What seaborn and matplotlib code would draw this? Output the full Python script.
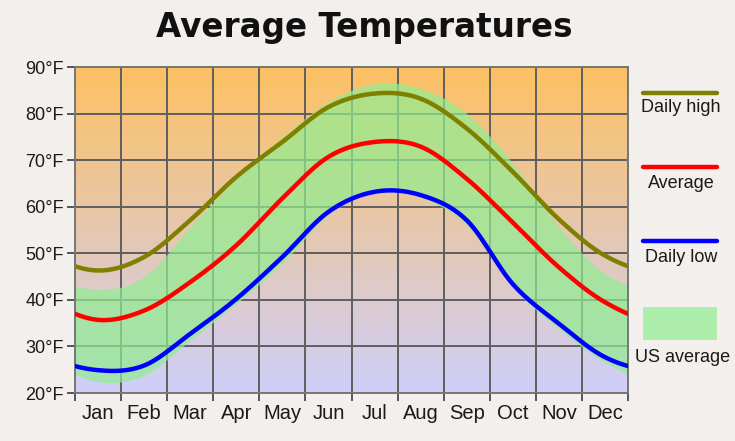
import numpy as np
import pandas as pd
import matplotlib
matplotlib.use("Agg")
import matplotlib.pyplot as plt
from matplotlib.lines import Line2D
from matplotlib.patches import Rectangle
import seaborn as sns

months = ["Jan", "Feb", "Mar", "Apr", "May", "Jun", "Jul", "Aug", "Sep", "Oct", "Nov", "Dec"]
daily_high = [46.3, 49.2, 57.1, 66.4, 73.9, 81.4, 84.3, 83.2, 76.8, 67.5, 57.3, 49.5]
average = [35.7, 37.7, 43.8, 51.7, 61.8, 70.7, 73.9, 72.9, 66.0, 56.6, 47.0, 39.5]
daily_low = [24.9, 25.9, 32.7, 40.2, 49.2, 58.9, 63.2, 62.5, 57.1, 43.4, 34.9, 27.7]
us_high = [42.2, 45.0, 55.6, 66.0, 75.0, 82.5, 86.4, 85.4, 80.0, 69.3, 55.6, 45.6]
us_low = [22.4, 23.8, 31.3, 39.2, 47.8, 58.3, 63.0, 62.0, 56.0, 42.7, 33.8, 26.6]
y_ticks = [20, 30, 40, 50, 60, 70, 80, 90]


def smooth(vals, n=24):
    # periodic catmull-rom through the monthly values (placed at month centres)
    v = np.asarray(vals, dtype=float)
    p = np.concatenate([v[-2:], v, v[:2]])
    centers = np.arange(-2, 14) + 0.5
    xs, ys = [], []
    for i in range(1, len(p) - 2):
        t = np.linspace(0, 1, n, endpoint=False)
        p0, p1, p2, p3 = p[i - 1], p[i], p[i + 1], p[i + 2]
        y = 0.5 * (2 * p1 + (-p0 + p2) * t + (2 * p0 - 5 * p1 + 4 * p2 - p3) * t ** 2
                   + (-p0 + 3 * p1 - 3 * p2 + p3) * t ** 3)
        xs.append(centers[i] + t)
        ys.append(y)
    return np.concatenate(xs), np.concatenate(ys)


sns.set_style("white")
plt.rcParams["font.family"] = ["Liberation Sans", "DejaVu Sans"]

fig = plt.figure(figsize=(7.35, 4.41), dpi=100, facecolor="#F2EFEC")
ax = fig.add_axes([75 / 735, 1 - 393 / 441, (628 - 75) / 735, (393 - 67) / 441])

# gradient background
top = np.array([253, 193, 99]) / 255
bot = np.array([207, 207, 250]) / 255
f = np.linspace(0, 1, 256)[:, None]
grad = (top * (1 - f) + bot * f)[:, None, :]
ax.imshow(grad, extent=[0, 12, 20, 90], aspect="auto", zorder=0)

# US average band
bx, blo = smooth(us_low)
_, bhi = smooth(us_high)
ax.fill_between(bx, blo, bhi, color="#90EE90", alpha=0.7, lw=0, zorder=1)

frames = []
for name, vals in [("Daily high", daily_high), ("Average", average), ("Daily low", daily_low)]:
    x, y = smooth(vals)
    frames.append(pd.DataFrame({"x": x, "temp": y, "series": name}))
df = pd.concat(frames, ignore_index=True)
palette = {"Daily high": "#808000", "Average": "#FF0000", "Daily low": "#0000FF"}
sns.lineplot(data=df, x="x", y="temp", hue="series", palette=palette, estimator=None,
             sort=False, lw=3.2, legend=False, ax=ax, zorder=3)

ax.set_xlim(0, 12)
ax.set_ylim(20, 90)
ax.set_xlabel("")
ax.set_ylabel("")

ax.set_xticks(np.arange(0, 13))
ax.set_xticklabels([])
ax.set_xticks(np.arange(12) + 0.5, minor=True)
ax.set_xticklabels(months, minor=True, fontsize=14.5, color="#1a1a1a")
ax.tick_params(axis="x", which="minor", length=0, pad=8)
ax.tick_params(axis="x", which="major", length=6, width=1.4, color="#555555", direction="out")

ax.set_yticks(y_ticks)
ax.set_yticklabels([f"{t}°F" for t in y_ticks], fontsize=13, color="#1a1a1a")
ax.tick_params(axis="y", length=6, width=1.4, color="#555555", direction="out", pad=2)
ax.tick_params(bottom=True, left=True)

ax.set_axisbelow(True)
ax.grid(True, which="major", color="#5f5f5f", lw=1.4)
for s in ax.spines.values():
    s.set_color("#777777")
    s.set_linewidth(1.4)

fig.text(364 / 735, 1 - 28 / 441, "Average Temperatures", ha="center", va="center",
         fontsize=23.5, fontweight="bold", family="DejaVu Sans", color="#111111")

# legend on the right
W, H = 735, 441
for ly, ty, col, label in [(93, 108, "#808000", "Daily high"), (167, 183, "#FF0000", "Average"),
                           (241, 258, "#0000FF", "Daily low")]:
    fig.add_artist(Line2D([643 / W, 717 / W], [1 - ly / H, 1 - ly / H], color=col, lw=3.2,
                          transform=fig.transFigure))
    fig.text(681 / W, 1 - ty / H, label, ha="center", va="center", fontsize=13, color="#1a1a1a")
fig.add_artist(Rectangle((643 / W, 1 - 340 / H), 74 / W, 33 / H, facecolor="#90EE90", alpha=0.7,
                         lw=0, transform=fig.transFigure))
fig.text(683 / W, 1 - 357 / H, "US average", ha="center", va="center", fontsize=13, color="#1a1a1a")

fig.savefig("out.png", dpi=100, facecolor=fig.get_facecolor())
